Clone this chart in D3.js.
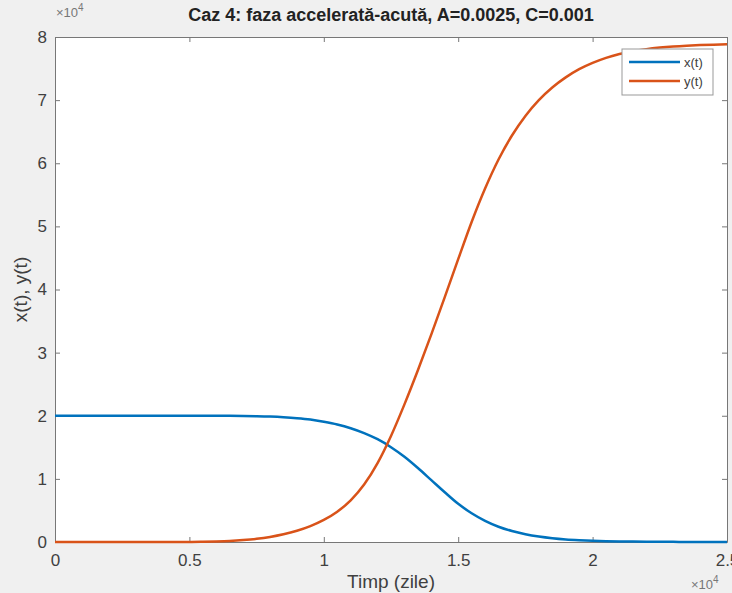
<!DOCTYPE html>
<html lang="ro">
<head>
<meta charset="utf-8">
<title>Caz 4</title>
<script src="https://cdn.jsdelivr.net/npm/d3@7"></script>
<style>
  body { margin: 0; background: #f0f0f0; }
  svg { display: block; font-family: "Liberation Sans", Arial, sans-serif; }
</style>
</head>
<body>
<script>
// time samples (zile)
var timp = [0, 500, 1000, 1500, 2000, 2500, 3000, 3500, 4000, 4500,
  5000, 5500, 6000, 6500, 7000, 7500, 8000, 8500, 9000, 9500,
  10000, 10500, 11000, 11500, 12000, 12500, 13000, 13500, 14000, 14500,
  15000, 15500, 16000, 16500, 17000, 17500, 18000, 18500, 19000, 19500,
  20000, 20500, 21000, 21500, 22000, 22500, 23000, 23500, 24000, 24500, 25000];

var xVals = [20000, 20000, 20000, 20000, 20000, 20000, 20000, 20000, 20000, 20000,
  20000, 20000, 19995, 19985, 19965, 19930, 19870, 19770, 19620, 19400,
  19050, 18620, 18030, 17250, 16280, 15020, 13500, 11720, 9800, 7880,
  6050, 4550, 3350, 2420, 1740, 1240, 870, 600, 410, 285,
  195, 135, 92, 64, 44, 31, 22, 15, 10, 7, 5];

var yVals = [0, 0, 0, 0, 0, 0, 0, 0, 0, 0,
  0, 30, 80, 160, 300, 500, 800, 1220, 1780, 2520,
  3500, 4800, 6600, 9100, 12500, 16800, 21800, 27200, 32900, 38800,
  44800, 50700, 56000, 60600, 64400, 67500, 70000, 72000, 73600, 74900,
  75900, 76700, 77300, 77750, 78080, 78320, 78500, 78630, 78720, 78790, 78840];

var xTicks = [0, 5000, 10000, 15000, 20000, 25000];
var yTicks = [0, 10000, 20000, 30000, 40000, 50000, 60000, 70000, 80000];
var seriesNames = ["x(t)", "y(t)"];
var colors = ["#0072bd", "#d95319"];

var W = 732, H = 593;
var pLeft = 55, pRight = 727, pTop = 37, pBottom = 542;

var svg = d3.select("body").append("svg")
  .attr("width", W)
  .attr("height", H);

svg.append("rect").attr("width", W).attr("height", H).attr("fill", "#f0f0f0");

var x = d3.scaleLinear().domain([0, 25000]).range([pLeft, pRight]);
var y = d3.scaleLinear().domain([0, 80000]).range([pBottom, pTop]);

// plot area
svg.append("rect")
  .attr("x", pLeft).attr("y", pTop)
  .attr("width", pRight - pLeft).attr("height", pBottom - pTop)
  .attr("fill", "white");

var axisColor = "#777";
var fmt = function(d) { return d3.format("")(d / 10000); };

var xAxis = svg.append("g")
  .attr("transform", "translate(0," + pBottom + ")")
  .call(d3.axisBottom(x).tickValues(xTicks).tickSizeInner(-5).tickSizeOuter(0).tickPadding(12).tickFormat(fmt));
var xTop = svg.append("g")
  .attr("transform", "translate(0," + pTop + ")")
  .call(d3.axisTop(x).tickValues(xTicks).tickSizeInner(-5).tickSizeOuter(0).tickFormat(""));
var yAxis = svg.append("g")
  .attr("transform", "translate(" + pLeft + ",0)")
  .call(d3.axisLeft(y).tickValues(yTicks).tickSizeInner(-5).tickSizeOuter(0).tickPadding(8).tickFormat(fmt));
var yRight = svg.append("g")
  .attr("transform", "translate(" + pRight + ",0)")
  .call(d3.axisRight(y).tickValues(yTicks).tickSizeInner(-5).tickSizeOuter(0).tickFormat(""));

[xAxis, xTop, yAxis, yRight].forEach(function(g) {
  g.selectAll("path, line").attr("stroke", axisColor);
  g.selectAll("text").attr("fill", "#404040").attr("font-size", "17px")
    .attr("font-family", "Liberation Sans, Arial, sans-serif");
});

// curves
var series = [xVals, yVals];
var line = d3.line()
  .x(function(d, i) { return x(timp[i]); })
  .y(function(d) { return y(d); })
  .curve(d3.curveMonotoneX);

svg.selectAll("path.curve")
  .data(series)
  .enter()
  .append("path")
  .attr("class", "curve")
  .attr("d", line)
  .attr("fill", "none")
  .attr("stroke", function(d, i) { return colors[i]; })
  .attr("stroke-width", 2.5);

// exponent labels
var exp1 = svg.append("text").attr("x", pLeft + 1).attr("y", 17).attr("font-size", "13px").attr("fill", "#777");
exp1.append("tspan").text("\u00d710");
exp1.append("tspan").attr("dy", -6).attr("font-size", "10px").text("4");

var exp2 = svg.append("text").attr("x", pRight - 36).attr("y", 589).attr("font-size", "13px").attr("fill", "#777");
exp2.append("tspan").text("\u00d710");
exp2.append("tspan").attr("dy", -6).attr("font-size", "10px").text("4");

// title and labels
svg.append("text")
  .attr("x", (pLeft + pRight) / 2).attr("y", 21)
  .attr("text-anchor", "middle")
  .attr("font-size", "18px").attr("font-weight", "bold").attr("fill", "#222")
  .text("Caz 4: faza accelerată-acută, A=0.0025, C=0.001");

svg.append("text")
  .attr("x", (pLeft + pRight) / 2).attr("y", 588)
  .attr("text-anchor", "middle")
  .attr("font-size", "19px").attr("fill", "#404040")
  .text("Timp (zile)");

svg.append("text")
  .attr("transform", "translate(27," + ((pTop + pBottom) / 2) + ") rotate(-90)")
  .attr("text-anchor", "middle")
  .attr("font-size", "19px").attr("fill", "#404040")
  .text("x(t), y(t)");

// legend
var lg = svg.append("g").attr("transform", "translate(622,49)");
lg.append("rect").attr("width", 91).attr("height", 46)
  .attr("fill", "white").attr("stroke", "#999");
lg.selectAll("line")
  .data(seriesNames)
  .enter()
  .append("line")
  .attr("x1", 7).attr("x2", 58)
  .attr("y1", function(d, i) { return 13 + i * 19; })
  .attr("y2", function(d, i) { return 13 + i * 19; })
  .attr("stroke", function(d, i) { return colors[i]; })
  .attr("stroke-width", 2.5);
lg.selectAll("text")
  .data(seriesNames)
  .enter()
  .append("text")
  .attr("x", 62)
  .attr("y", function(d, i) { return 17.5 + i * 19; })
  .attr("font-size", "13px").attr("fill", "#404040")
  .text(function(d) { return d; });
</script>
</body>
</html>
